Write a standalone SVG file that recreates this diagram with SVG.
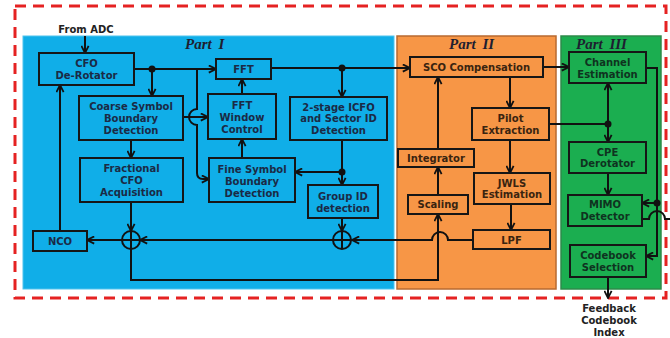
<svg xmlns="http://www.w3.org/2000/svg" width="670" height="338" viewBox="0 0 670 338">
<style>
.box{stroke:#161616;stroke-width:2}
.b{fill:#10AEE8}.o{fill:#F79646}.g{fill:#1BAE50}
text{font-family:"DejaVu Sans",Verdana,sans-serif;font-weight:bold;font-size:10px;text-anchor:middle;dominant-baseline:central}
.tb{fill:#1B2A45}.to{fill:#3A2410}.tg{fill:#0F3320}.tk{fill:#222}
.part{font-family:"Liberation Serif","Times New Roman",serif;font-style:italic;font-weight:bold;font-size:15px;text-anchor:start;dominant-baseline:auto;fill:#1E1E30;word-spacing:3px}
.ln{fill:none;stroke:#111;stroke-width:2}
.ar{marker-end:url(#arr)}
.dot{fill:#111}
</style>
<defs>
<marker id="arr" viewBox="0 0 10 10" refX="9" refY="5" markerWidth="9" markerHeight="9" markerUnits="userSpaceOnUse" orient="auto">
<path d="M1,1 L9,5 L1,9" fill="none" stroke="#111" stroke-width="2"/>
</marker>
</defs>
<rect x="0" y="0" width="670" height="338" fill="#fff"/>
<!-- panels -->
<rect x="23" y="36" width="371" height="253" fill="#10AEE8" stroke="#4FC3EE" stroke-width="1"/>
<rect x="397" y="36" width="159" height="253" fill="#F79646" stroke="#B86A30" stroke-width="1.5"/>
<rect x="561" y="36" width="100" height="253" fill="#1BAE50" stroke="#2E8B4A" stroke-width="1.5"/>
<rect x="15" y="6" width="651" height="292" fill="none" stroke="#E52222" stroke-width="3" stroke-dasharray="11 7"/>
<text class="part" x="185" y="49">Part I</text>
<text class="part" x="449" y="49">Part II</text>
<text class="part" x="576" y="49">Part III</text>
<text class="tk" x="86" y="29">From ADC</text>

<!-- connectors -->
<g id="connectors">
<path class="ln ar" d="M85,36 V53"/>
<path class="ln ar" d="M134,69 H216"/>
<path class="ln ar" d="M152,69 V96"/>
<path class="ln ar" d="M197,69 V109 A8,8 0 0,0 197,125 V173 Q197,179 203,179 H209"/>
<path class="ln ar" d="M183,117 H208"/>
<path class="ln ar" d="M131,140 V158"/>
<path class="ln ar" d="M131,202 V231"/>
<path class="ln ar" d="M122,240 H87"/>
<path class="ln ar" d="M60,231 V85"/>
<path class="ln ar" d="M334,240 H140"/>
<path class="ln ar" d="M131,249 V280 H438 V214"/>
<path class="ln ar" d="M473,240 H448 A8,8 0 0,0 432,240 H352"/>
<path class="ln ar" d="M342,218 V231"/>
<path class="ln ar" d="M342,140 V185"/>
<path class="ln ar" d="M342,172 H295"/>
<path class="ln ar" d="M242,158 V139"/>
<path class="ln ar" d="M242,94 V79"/>
<path class="ln ar" d="M271,68 H410"/>
<path class="ln ar" d="M342,68 V97"/>
<path class="ln ar" d="M543,67 H569"/>
<path class="ln ar" d="M510,77 V108"/>
<path class="ln ar" d="M510,140 V173"/>
<path class="ln ar" d="M511,204 V230"/>
<path class="ln ar" d="M438,195 V167"/>
<path class="ln ar" d="M438,149 V77"/>
<path class="ln" d="M549,124 H608"/>
<path class="ln ar" d="M608,124 V83"/>
<path class="ln ar" d="M608,124 V142"/>
<path class="ln ar" d="M608,173 V195"/>
<path class="ln ar" d="M646,68 H657 V256 H646"/>
<path class="ln ar" d="M657,203 H642"/>
<path class="ln" d="M642,219 H649 A8,8 0 0,1 665,219 H670"/>
<path class="ln ar" d="M608,277 V298"/>
<circle class="dot" cx="152" cy="69" r="3.5"/>
<circle class="dot" cx="342" cy="68" r="3.5"/>
<circle class="dot" cx="342" cy="172" r="3.5"/>
<circle class="dot" cx="608" cy="124" r="3.5"/>
<circle class="dot" cx="657" cy="203" r="3.5"/>
</g>

<!-- Part I nodes -->
<g id="cfo-derotator"><rect class="box b" x="39" y="53" width="95" height="32"/><text class="tb" x="86.5" y="63">CFO</text><text class="tb" x="86.5" y="75">De-Rotator</text></g>
<g id="coarse-symbol"><rect class="box b" x="79" y="96" width="104" height="44"/><text class="tb" x="131" y="106">Coarse Symbol</text><text class="tb" x="131" y="118">Boundary</text><text class="tb" x="131" y="130">Detection</text></g>
<g id="fractional-cfo"><rect class="box b" x="80" y="158" width="103" height="44"/><text class="tb" x="131.5" y="168">Fractional</text><text class="tb" x="131.5" y="180">CFO</text><text class="tb" x="131.5" y="192">Acquisition</text></g>
<g id="nco"><rect class="box b" x="33" y="231" width="54" height="20"/><text class="tb" x="60" y="241">NCO</text></g>
<g id="adder1"><circle cx="131" cy="240" r="9" fill="none" stroke="#111" stroke-width="2"/><path class="ln" d="M122,240 H140 M131,231 V249"/></g>
<g id="fft"><rect class="box b" x="216" y="59" width="55" height="20"/><text class="tb" x="243.5" y="69">FFT</text></g>
<g id="fft-window-control"><rect class="box b" x="208" y="94" width="68" height="45"/><text class="tb" x="242" y="105">FFT</text><text class="tb" x="242" y="117">Window</text><text class="tb" x="242" y="129">Control</text></g>
<g id="fine-symbol"><rect class="box b" x="209" y="158" width="86" height="44"/><text class="tb" x="252" y="169">Fine Symbol</text><text class="tb" x="252" y="181">Boundary</text><text class="tb" x="252" y="193">Detection</text></g>
<g id="icfo-sector"><rect class="box b" x="290" y="97" width="97" height="43"/><text class="tb" x="338.5" y="107">2-stage ICFO</text><text class="tb" x="338.5" y="118.5">and Sector ID</text><text class="tb" x="338.5" y="130">Detection</text></g>
<g id="group-id"><rect class="box b" x="308" y="185" width="70" height="33"/><text class="tb" x="343" y="196">Group ID</text><text class="tb" x="343" y="208">detection</text></g>
<g id="adder2"><circle cx="342" cy="240" r="9" fill="none" stroke="#111" stroke-width="2"/><path class="ln" d="M333,240 H351 M342,231 V249"/></g>

<!-- Part II nodes -->
<g id="sco-compensation"><rect class="box o" x="410" y="57" width="133" height="20"/><text class="to" x="476.5" y="67">SCO Compensation</text></g>
<g id="pilot-extraction"><rect class="box o" x="472" y="108" width="77" height="32"/><text class="to" x="510.5" y="118">Pilot</text><text class="to" x="510.5" y="130">Extraction</text></g>
<g id="integrator"><rect class="box o" x="398" y="149" width="76" height="18"/><text class="to" x="436" y="158">Integrator</text></g>
<g id="scaling"><rect class="box o" x="408" y="195" width="60" height="19"/><text class="to" x="438" y="204.5">Scaling</text></g>
<g id="jwls-estimation"><rect class="box o" x="474" y="173" width="76" height="31"/><text class="to" x="512" y="183">JWLS</text><text class="to" x="512" y="194">Estimation</text></g>
<g id="lpf"><rect class="box o" x="473" y="230" width="77" height="19"/><text class="to" x="511.5" y="240">LPF</text></g>

<!-- Part III nodes -->
<g id="channel-estimation"><rect class="box g" x="569" y="52" width="77" height="31"/><text class="tg" x="607.5" y="62">Channel</text><text class="tg" x="607.5" y="74">Estimation</text></g>
<g id="cpe-derotator"><rect class="box g" x="569" y="142" width="77" height="31"/><text class="tg" x="607.5" y="152">CPE</text><text class="tg" x="607.5" y="163">Derotator</text></g>
<g id="mimo-detector"><rect class="box g" x="568" y="195" width="74" height="31"/><text class="tg" x="605" y="204">MIMO</text><text class="tg" x="605" y="216">Detector</text></g>
<g id="codebook-selection"><rect class="box g" x="570" y="245" width="76" height="32"/><text class="tg" x="608" y="255">Codebook</text><text class="tg" x="608" y="267">Selection</text></g>

<g id="feedback-label"><text class="tk" x="609" y="308">Feedback</text><text class="tk" x="609" y="320">Codebook</text><text class="tk" x="609" y="332">Index</text></g>
</svg>
